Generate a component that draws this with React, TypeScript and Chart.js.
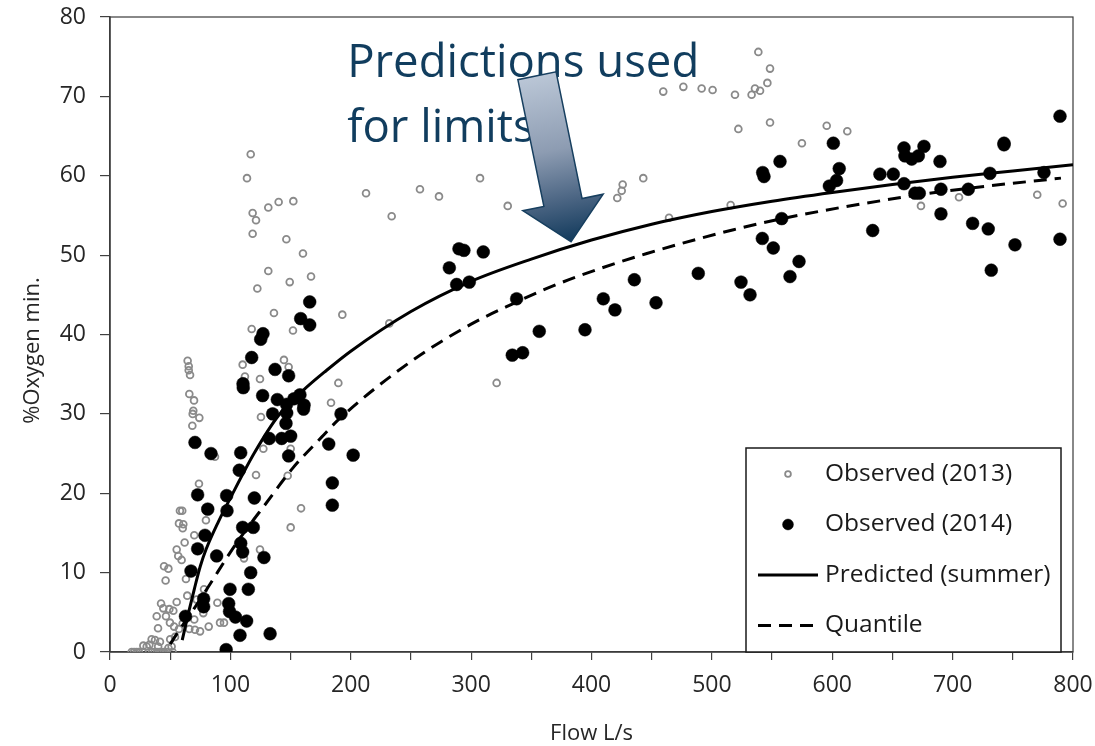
import React, { useEffect, useRef } from "react";
import { Chart, registerables } from "chart.js";

Chart.register(...registerables);

// ---------- data ----------
const seriesLabels = ["Observed (2013)", "Observed (2014)", "Predicted (summer)", "Quantile"];

const obs2013: [number, number][] = [
  [116.9, 62.7], [113.8, 59.7], [118.5, 55.3], [121.3, 54.4], [118.5, 52.7], [131.5, 56.0], [140.1, 56.7],
  [152.3, 56.8], [146.5, 52.0], [160.3, 50.2], [131.5, 48.0], [149.3, 46.6], [167, 47.3], [122.4, 45.8],
  [136.2, 42.7], [193, 42.5], [117.7, 40.7], [152, 40.5], [64.5, 36.7], [65.4, 36.0], [65.4, 35.5],
  [66.5, 34.9], [110.2, 36.2], [144.5, 36.8], [148.4, 35.9], [112.1, 34.7], [124.6, 34.4], [189.7, 33.9],
  [183.6, 31.4], [65.9, 32.5], [69.8, 31.7], [69.2, 30.4], [68.7, 30.0], [74.2, 29.5], [68.4, 28.5],
  [125.4, 29.6], [87.2, 24.6], [127.4, 25.6], [150.1, 25.6], [121.3, 22.3], [147.6, 22.2], [73.9, 21.2],
  [79.7, 16.6], [158.7, 18.1], [150.1, 15.7], [58.1, 17.8], [60, 17.8], [57.3, 16.2], [60.9, 16.1],
  [60.4, 15.6], [70, 14.7], [62, 13.8], [55.4, 12.9], [56.7, 12.1], [59.5, 11.6], [124.6, 12.9],
  [111.3, 11.8], [44.9, 10.8], [48.5, 10.5], [46.2, 9.0], [63.1, 9.2], [78.1, 7.9], [64.2, 7.1],
  [72, 6.6], [42.4, 6.1], [44.3, 5.5], [49.3, 5.4], [52.6, 5.2], [55.4, 6.3], [89.2, 6.2], [38.8, 4.5],
  [46.5, 4.5], [49.8, 3.7], [60.4, 3.6], [70, 4.1], [77.5, 4.9], [91.4, 3.7], [94.7, 3.7], [39.9, 3.0],
  [57.3, 2.9], [53.2, 3.2], [65.9, 2.9], [70.6, 2.8], [74.8, 2.6], [82, 3.2], [34.6, 1.6], [30.5, 0.7],
  [32.7, 0.9], [37.4, 1.5], [41.5, 1.3], [40, 0.7], [48.5, 0.5], [51.2, 0.7], [54, 1.9], [27.7, 0.8],
  [50, 1.6], [18, 0], [20, 0], [22, 0], [24, 0], [27, 0], [35, 0], [37, 0], [39, 0], [41, 0], [43, 0],
  [45, 0], [47, 0], [52, 0],
  [307.4, 59.7], [257.5, 58.3], [273.3, 57.4], [212.7, 57.8], [234, 54.9], [330.4, 56.2], [232, 41.4],
  [321.2, 33.9],
  [538.6, 75.6], [548.3, 73.5], [546.1, 71.7], [535.8, 71.0], [540, 70.7], [533, 70.2], [519.2, 70.2],
  [500.6, 70.8], [491.5, 71.0], [476.3, 71.2], [459.6, 70.6], [548.3, 66.7], [522, 65.9], [574.8, 64.1],
  [443, 59.7], [425.9, 58.9], [425.1, 58.1], [421.4, 57.2], [464.4, 54.7], [515.6, 56.3],
  [595.4, 66.3], [612.5, 65.6], [604.2, 59.5], [673.7, 56.2], [705.3, 57.3], [770.3, 57.6], [791.4, 56.5],
];

const obs2014: [number, number][] = [
  [165.9, 44.1], [158.4, 42.0], [165.9, 41.2], [127.1, 40.1], [125.2, 39.4], [117.7, 37.1], [137.1, 35.6],
  [148.4, 34.8], [110.7, 33.3], [110.5, 33.8], [126.8, 32.3], [139, 31.8], [146.7, 31.2], [152.8, 31.9],
  [157.8, 32.4], [161.2, 31.1], [160.8, 30.6], [135.1, 30.0], [146.8, 30.1], [191.9, 30.0], [146.2, 28.8],
  [132.3, 26.9], [142.6, 26.9], [150.1, 27.2], [70.6, 26.4], [83.9, 25.0], [108.6, 25.1], [148.4, 24.7],
  [181.7, 26.2], [202, 24.8], [107.4, 22.9], [72.8, 19.8], [96.9, 19.7], [81.2, 18.0], [97.2, 17.8],
  [119.9, 19.4], [184.7, 21.3], [184.7, 18.5], [110.2, 15.7], [119, 15.7], [78.9, 14.7], [72.8, 13.0],
  [108.6, 13.7], [110.2, 12.6], [88.6, 12.1], [127.9, 11.9], [67.3, 10.2], [116.9, 10.0], [99.7, 7.9],
  [114.9, 7.9], [77.8, 6.7], [77.8, 5.7], [98.6, 6.1], [99.3, 5.1], [104.2, 4.4], [113.5, 3.9], [62.7, 4.5],
  [108, 2.1], [133, 2.3], [96.5, 0.3],
  [289.9, 50.8], [294, 50.6], [310.1, 50.4], [281.9, 48.4], [288, 46.3], [298.5, 46.6], [337.8, 44.5],
  [356.6, 40.4], [394.6, 40.6], [334.2, 37.4], [342.8, 37.7], [556.6, 61.8], [542.2, 60.4], [543.3, 59.9],
  [558, 54.6], [541.9, 52.1], [551, 50.9], [572.4, 49.2], [564.9, 47.3], [488.7, 47.7], [524.2, 46.6],
  [531.7, 45.0], [435.6, 46.9], [453.6, 44.0], [409.8, 44.5], [419.5, 43.1],
  [789.2, 67.5], [600.9, 64.1], [605.8, 60.9], [603.6, 59.4], [597.6, 58.7], [639.6, 60.2], [650.7, 60.2],
  [659.6, 63.5], [660.4, 62.5], [666, 62.1], [671.5, 62.5], [676.2, 63.7], [659.6, 59.0], [668.7, 57.8],
  [672.3, 57.8], [689.5, 61.8], [690.3, 58.3], [690.3, 55.2], [713, 58.3], [716.6, 54.0], [729.6, 53.3],
  [731, 60.3], [742.7, 64.1], [742.7, 63.9], [732.1, 48.1], [751.8, 51.3], [775.9, 60.4], [789.2, 52.0],
  [633.6, 53.1],
];

const predictedCurve: [number, number][] = [
  [60, 1.5], [65, 4.8], [70, 7.9], [75, 10.8], [80, 13.0], [90, 16.4], [100, 19.4], [120, 25.1],
  [140, 29.8], [160, 32.9], [180, 35.5], [200, 37.9], [250, 42.9], [300, 46.7], [350, 49.5], [400, 51.9],
  [450, 53.9], [500, 55.5], [550, 56.8], [600, 57.9], [650, 58.9], [700, 59.8], [750, 60.6], [800, 61.4],
];

const quantileCurve: [number, number][] = [
  [50, 1.0], [60, 3.3], [70, 5.5], [85, 9.0], [95, 11.4], [105, 13.7], [118, 16.4], [127, 18.2],
  [152, 23.2], [176, 27.1], [190, 29.3], [250, 36.6], [300, 41.3], [335, 43.9], [363, 45.8], [390, 47.4],
  [446, 50.2], [518, 53.2], [565, 54.8], [659, 57.3], [712, 58.4], [790, 59.7],
];

const xAxis = { min: 0, max: 800, step: 50, labelEvery: 100, title: "Flow L/s" };
const yAxis = { min: 0, max: 80, step: 10, title: "%Oxygen min." };

const noteLines = ["Predictions used", "for limits"];
// arrow tail and tip, in data units
const arrowTail: [number, number] = [354.7, 72.6];
const arrowTip: [number, number] = [383, 51.7];

// ---------- plugins ----------
const FONT = "'Open Sans', 'Noto Sans', sans-serif";

const decorPlugin = {
  id: "decor",
  beforeDatasetsDraw(chart: any) {
    const { ctx, chartArea: a } = chart;
    ctx.save();
    ctx.strokeStyle = "#3a3a3a";
    ctx.lineWidth = 1.2;
    ctx.strokeRect(a.left, a.top, a.right - a.left, a.bottom - a.top);
    ctx.restore();
  },
  afterDraw(chart: any) {
    const { ctx, chartArea: a } = chart;
    const xs = chart.scales.x;
    const ys = chart.scales.y;
    ctx.save();

    // axis titles
    ctx.fillStyle = "#262626";
    ctx.font = `22px ${FONT}`;
    ctx.textAlign = "center";
    ctx.textBaseline = "middle";
    ctx.fillText(xAxis.title, (a.left + a.right) / 2, a.bottom + 82);
    ctx.save();
    ctx.translate(33, (a.top + a.bottom) / 2 + 16);
    ctx.rotate(-Math.PI / 2);
    ctx.fillText(yAxis.title, 0, 0);
    ctx.restore();

    // note text
    ctx.fillStyle = "#113d5e";
    ctx.font = `45.5px ${FONT}`;
    ctx.textAlign = "left";
    ctx.textBaseline = "alphabetic";
    const tx = xs.getPixelForValue(197);
    ctx.fillText(noteLines[0], tx, ys.getPixelForValue(72.4));
    ctx.fillText(noteLines[1], tx, ys.getPixelForValue(64.3));

    // arrow
    const t = { x: xs.getPixelForValue(arrowTail[0]), y: ys.getPixelForValue(arrowTail[1]) };
    const p = { x: xs.getPixelForValue(arrowTip[0]), y: ys.getPixelForValue(arrowTip[1]) };
    const dx = p.x - t.x, dy = p.y - t.y;
    const len = Math.hypot(dx, dy);
    const ux = dx / len, uy = dy / len;
    const nx = -uy, ny = ux;
    const sw = 19.5, hw = 41, hl = 40;
    const bx = p.x - ux * hl, by = p.y - uy * hl;
    const grad = ctx.createLinearGradient(t.x, t.y, p.x, p.y);
    grad.addColorStop(0, "#bac6d6");
    grad.addColorStop(0.45, "#8d9cb2");
    grad.addColorStop(0.75, "#4b6583");
    grad.addColorStop(1, "#123a5c");
    ctx.beginPath();
    ctx.moveTo(t.x + nx * sw, t.y + ny * sw);
    ctx.lineTo(bx + nx * sw, by + ny * sw);
    ctx.lineTo(bx + nx * hw, by + ny * hw);
    ctx.lineTo(p.x, p.y);
    ctx.lineTo(bx - nx * hw, by - ny * hw);
    ctx.lineTo(bx - nx * sw, by - ny * sw);
    ctx.lineTo(t.x - nx * sw, t.y - ny * sw);
    ctx.closePath();
    ctx.fillStyle = grad;
    ctx.fill();
    ctx.strokeStyle = "#173f5f";
    ctx.lineWidth = 1.5;
    ctx.stroke();

    // legend box
    const bw = 315, bh = 204;
    const right = a.right - 12;
    const bottom = a.bottom;
    const left = right - bw, top = bottom - bh;
    ctx.fillStyle = "#ffffff";
    ctx.fillRect(left, top, bw, bh);
    ctx.strokeStyle = "#1a1a1a";
    ctx.lineWidth = 1.5;
    ctx.strokeRect(left, top, bw, bh);
    ctx.font = `24.5px ${FONT}`;
    ctx.textBaseline = "middle";
    ctx.textAlign = "left";
    chart.data.datasets.forEach((ds: any, i: number) => {
      const cy = top + 26 + i * 50.5;
      const cx = left + 42;
      if (ds.showLine) {
        ctx.save();
        ctx.strokeStyle = ds.borderColor;
        ctx.lineWidth = ds.borderWidth;
        ctx.setLineDash(ds.borderDash || []);
        ctx.beginPath();
        ctx.moveTo(left + 12, cy);
        ctx.lineTo(left + 72, cy);
        ctx.stroke();
        ctx.restore();
      } else {
        ctx.beginPath();
        ctx.arc(cx, cy, ds.pointRadius * 0.85, 0, Math.PI * 2);
        if (ds.pointBackgroundColor !== "rgba(0,0,0,0)") {
          ctx.fillStyle = ds.pointBackgroundColor;
          ctx.fill();
        }
        ctx.strokeStyle = ds.pointBorderColor;
        ctx.lineWidth = ds.pointBorderWidth;
        ctx.stroke();
      }
      ctx.fillStyle = "#1a1a1a";
      ctx.fillText(ds.label, left + 79, cy);
    });
    ctx.restore();
  },
};

const toXY = (arr: [number, number][]) => arr.map(([x, y]) => ({ x, y }));

export default function App() {
  const ref = useRef<HTMLCanvasElement | null>(null);
  useEffect(() => {
    if (!ref.current) return;
    const tickFont = { family: FONT, size: 23 };
    const chart = new Chart(ref.current, {
      type: "scatter",
      data: {
        datasets: [
          {
            label: seriesLabels[0],
            data: toXY(obs2013),
            showLine: false,
            pointRadius: 3.4,
            pointBorderWidth: 1.8,
            pointBorderColor: "#8a8a8a",
            pointBackgroundColor: "rgba(0,0,0,0)",
            order: 4,
          } as any,
          {
            label: seriesLabels[1],
            data: toXY(obs2014),
            showLine: false,
            pointRadius: 6.4,
            pointBorderWidth: 0.5,
            pointBorderColor: "#000000",
            pointBackgroundColor: "#000000",
            order: 3,
          } as any,
          {
            label: seriesLabels[2],
            data: toXY(predictedCurve),
            showLine: true,
            borderColor: "#000000",
            borderWidth: 3,
            pointRadius: 0,
            cubicInterpolationMode: "monotone",
            order: 2,
          } as any,
          {
            label: seriesLabels[3],
            data: toXY(quantileCurve),
            showLine: true,
            borderColor: "#000000",
            borderWidth: 3,
            borderDash: [13, 8],
            pointRadius: 0,
            cubicInterpolationMode: "monotone",
            order: 1,
          } as any,
        ],
      },
      options: {
        responsive: false,
        animation: false,
        devicePixelRatio: 1,
        layout: { padding: { top: 17, right: 22, left: 0, bottom: 0 } },
        plugins: { legend: { display: false }, tooltip: { enabled: false } },
        scales: {
          x: {
            type: "linear",
            min: xAxis.min,
            max: xAxis.max,
            afterFit: (s: any) => {
              s.height = 94;
              s.paddingLeft = 0;
              s.paddingRight = 0;
            },
            ticks: {
              stepSize: xAxis.step,
              autoSkip: false,
              maxRotation: 0,
              padding: 12,
              color: "#262626",
              font: tickFont,
              callback: (v: any) => (Number(v) % xAxis.labelEvery === 0 ? String(v) : ""),
            },
            grid: { drawOnChartArea: false, tickLength: 8, color: "#404040", lineWidth: 1.2 },
            border: { color: "#404040", width: 1.5 },
          },
          y: {
            type: "linear",
            min: yAxis.min,
            max: yAxis.max,
            afterFit: (s: any) => {
              s.width = 110;
              s.paddingTop = 0;
              s.paddingBottom = 0;
            },
            ticks: { stepSize: yAxis.step, padding: 14, color: "#262626", font: tickFont },
            grid: { drawOnChartArea: false, tickLength: 10, color: "#404040", lineWidth: 1.2 },
            border: { color: "#404040", width: 1.5 },
          },
        },
      },
      plugins: [decorPlugin],
    });
    return () => chart.destroy();
  }, []);
  return (
    <div style={{ position: "fixed", left: 0, top: 0, width: 1095, height: 746, background: "#ffffff" }}>
      <canvas ref={ref} width={1095} height={746} style={{ display: "block" }} />
    </div>
  );
}
